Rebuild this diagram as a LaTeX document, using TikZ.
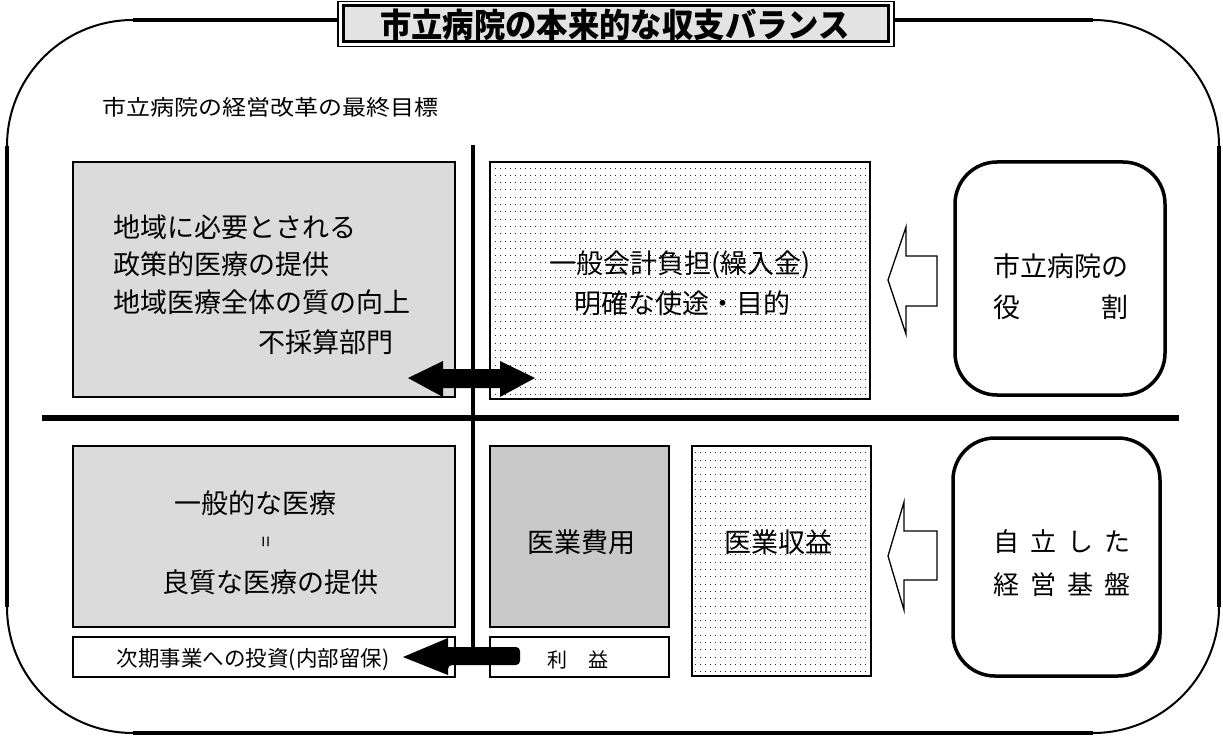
\documentclass[tikz,border=0pt]{standalone}
\usepackage{fontspec}
\usepackage{graphicx}
\newfontfamily\jp{Noto Sans CJK JP}
\usetikzlibrary{patterns}
\pgfdeclarepatternformonly{rowdots}{\pgfpoint{-0.5pt}{-0.5pt}}{\pgfpoint{5.5pt}{8pt}}{\pgfpoint{5pt}{7.3pt}}{%
  \pgfpathrectangle{\pgfpoint{0pt}{0pt}}{\pgfpoint{1pt}{1pt}}\pgfusepath{fill}}
\tikzset{
  box/.style={draw, line width=1.6pt, inner sep=0pt},
  graybox/.style={box, fill=black!14},
  darkbox/.style={box, fill=black!21},
  dotbox/.style={box, pattern=rowdots, pattern color=black!85},
  whitebox/.style={box, fill=white},
  roundbox/.style={draw, line width=3.5pt, rounded corners=42pt, inner sep=0pt},
  txt/.style={font=\jp\fontsize{27}{32}\selectfont, inner sep=0pt},
  smalltxt/.style={font=\jp\fontsize{20}{24}\selectfont, inner sep=0pt},
  frameline/.style={line width=3.2pt},
  framearc/.style={line width=2pt},
  hollowarrow/.style={draw, line width=1.3pt, fill=white, line join=miter},
  solidarrow/.style={fill=black}
}
\begin{document}
\begin{tikzpicture}[x=1pt,y=-1pt]
\useasboundingbox (0,0) rectangle (1223,738);
% outer frame
\draw[frameline] (133,20) -- (338,20);
\draw[frameline] (894,20) -- (1093,20);
\draw[frameline] (7,146) -- (7,607);
\draw[frameline] (1219,146) -- (1219,607);
\draw[frameline] (133,733) -- (1093,733);
\draw[framearc] (7,146) .. controls (7,76.4) and (63.4,20) .. (133,20);
\draw[framearc] (1093,20) .. controls (1162.6,20) and (1219,76.4) .. (1219,146);
\draw[framearc] (1219,607) .. controls (1219,676.6) and (1162.6,733) .. (1093,733);
\draw[framearc] (133,733) .. controls (63.4,733) and (7,676.6) .. (7,607);
% title
\node[draw, line width=1.2pt, fill=white, minimum width=556pt, minimum height=45pt, inner sep=0pt] (titleout) at (616,24) {};
\node[draw, line width=3pt, fill=black!11, minimum width=545pt, minimum height=36pt, inner sep=0pt] (titlein) at (616,24) {};
\node[font=\jp\bfseries\fontsize{32}{36}\selectfont, inner sep=0pt] (title) at (615,25) {\scalebox{0.98}[1.04]{市立病院の本来的な収支バランス}};
% subtitle
\node[anchor=west, font=\jp\fontsize{21.5}{26}\selectfont, inner sep=0pt] (sub) at (102,107.5) {\scalebox{1.116}[1]{市立病院の経営改革の最終目標}};
% dividers
\coordinate (vtop) at (473,145);
\coordinate (vbot) at (473,647);
\coordinate (hl) at (42,418);
\coordinate (hr) at (1179,418);
\draw[line width=3.3pt] (vtop) -- (vbot);
\draw[line width=6pt] (hl) -- (hr);
% boxes
\node[graybox, minimum width=382pt, minimum height=235pt] (ul) at (264,279.5) {};
\node[dotbox, minimum width=380pt, minimum height=237pt] (um) at (680,280.5) {};
\node[graybox, minimum width=382pt, minimum height=181pt] (ll) at (264,536.5) {};
\node[whitebox, minimum width=382pt, minimum height=40pt] (inv) at (264,657) {};
\node[darkbox, minimum width=179pt, minimum height=181pt] (cost) at (579.5,536.5) {};
\node[whitebox, minimum width=179pt, minimum height=40pt] (profit) at (579.5,657) {};
\node[dotbox, minimum width=179pt, minimum height=230pt] (rev) at (781.5,561) {};
\node[roundbox, minimum width=210pt, minimum height=233pt] (role) at (1060,278.5) {};
\node[roundbox, minimum width=207pt, minimum height=238pt] (base) at (1056.5,557) {};
% texts upper left
\node[txt, anchor=west] (ul1) at (113,227) {地域に必要とされる};
\node[txt, anchor=west] (ul2) at (113,264) {政策的医療の提供};
\node[txt, anchor=west] (ul3) at (113,302) {地域医療全体の質の向上};
\node[txt, anchor=west] (ul4) at (258,342) {不採算部門};
% texts upper middle
\node[txt] (um1) at (680,265) {一般会計負担(繰入金)};
\node[txt] (um2) at (682,303) {明確な使途・目的};
% texts lower left
\node[txt] (ll1) at (255,503) {一般的な医療};
\node[font=\jp\fontsize{20}{22}\selectfont, inner sep=0pt, rotate=90] (lleq) at (268,542) {=};
\node[txt] (ll2) at (270,582) {良質な医療の提供};
\node[font=\jp\fontsize{21.5}{26}\selectfont, inner sep=0pt] (invt) at (253,660) {次期事業への投資(内部留保)};
% middle bottom
\node[txt] (costt) at (581,542) {医業費用};
\node[smalltxt] (proft) at (577.5,660) {利\hspace{21pt}益};
\node[txt] (revt) at (778,542) {医業収益};
% right boxes text
\node[txt] (role1) at (1060.5,266) {市立病院の};
\node[txt] (role2) at (1060.5,307) {役\hspace{81pt}割};
\node[font=\jp\fontsize{26}{30}\selectfont, inner sep=0pt] (base1) at (1061.5,542) {自\hspace{11pt}立\hspace{11pt}し\hspace{11pt}た};
\node[font=\jp\fontsize{26}{30}\selectfont, inner sep=0pt] (base2) at (1061.5,585) {経\hspace{11pt}営\hspace{11pt}基\hspace{11pt}盤};
% hollow arrows
\draw[hollowarrow] (888,280) -- (906,227) -- (906,256) -- (937,256) -- (937,306) -- (906,306) -- (906,334) -- cycle;
\draw[hollowarrow] (888,556) -- (904,502) -- (904,531) -- (937,531) -- (937,580) -- (904,580) -- (904,610) -- cycle;
% double arrow
\fill[solidarrow] (408,378) -- (443,361) -- (443,369) -- (500,369) -- (500,361) -- (535,378) -- (500,397) -- (500,388) -- (443,388) -- (443,397) -- cycle;
% bottom arrow
\fill[solidarrow] (403,657) -- (448,638) -- (448,647) {[rounded corners=4pt] -- (520,647) -- (520,665) -- (448,665)} -- (448,675) -- cycle;
\end{tikzpicture}
\end{document}
